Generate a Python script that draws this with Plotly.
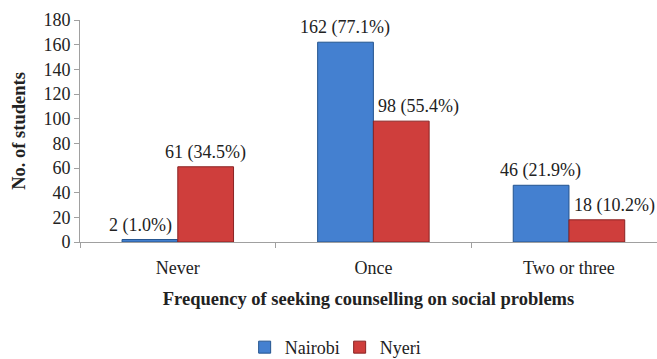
import plotly.graph_objects as go

categories = ["Never", "Once", "Two or three"]
nairobi = [2, 162, 46]
nairobi_pct = ["1.0%", "77.1%", "21.9%"]
nyeri = [61, 98, 18]
nyeri_pct = ["34.5%", "55.4%", "10.2%"]

FONT = "Liberation Serif"
BLUE = "#4480d0"
RED = "#cf3e3c"

# label placement styles (alignment of value labels above bars)
nairobi_label_shift = [-37, -28, -28]
nyeri_label_anchor = ["center", "left", "left"]
nyeri_label_shift = [28, 3, 3]

fig = go.Figure()
fig.add_trace(go.Bar(
    name="Nairobi", x=categories, y=nairobi,
    marker=dict(color=BLUE, line=dict(color="#24548f", width=1)),
))
fig.add_trace(go.Bar(
    name="Nyeri", x=categories, y=nyeri,
    marker=dict(color=RED, line=dict(color="#8a2323", width=1)),
))

for c, v, p, s in zip(categories, nairobi, nairobi_pct, nairobi_label_shift):
    fig.add_annotation(x=c, y=v, text=f"{v} ({p})", showarrow=False,
                       xanchor="center", yanchor="bottom", xshift=s, yshift=2,
                       font=dict(family=FONT, size=18, color="#222"))
for c, v, p, a, s in zip(categories, nyeri, nyeri_pct, nyeri_label_anchor, nyeri_label_shift):
    fig.add_annotation(x=c, y=v, text=f"{v} ({p})", showarrow=False,
                       xanchor=a, yanchor="bottom", xshift=s, yshift=2,
                       font=dict(family=FONT, size=18, color="#222"))

fig.update_layout(
    width=657, height=359,
    margin=dict(l=80, r=0, t=20, b=117, autoexpand=False),
    paper_bgcolor="white", plot_bgcolor="white",
    barmode="group", bargap=0.43, bargroupgap=0,
    font=dict(family=FONT, size=18, color="#222"),
    showlegend=True,
    legend=dict(orientation="h", x=0.45, xanchor="center", y=-0.475, yanchor="middle",
                font=dict(family=FONT, size=18, color="#222"), itemwidth=30,
                entrywidth=50, entrywidthmode="pixels", traceorder="normal"),
    xaxis=dict(
        range=[-0.5, 2.45], showline=True, linecolor="#a0a0a0", linewidth=1,
        ticks="outside", tickson="boundaries", ticklen=5, tickcolor="#a0a0a0",
        tickfont=dict(family=FONT, size=18), ticklabelstandoff=9, automargin=False,
        title=dict(text="<b>Frequency of seeking counselling on social problems</b>",
                   font=dict(family=FONT, size=18.5), standoff=15),
        showgrid=False, zeroline=False,
    ),
    yaxis=dict(
        range=[0, 180], dtick=20, showline=True, linecolor="#a0a0a0", linewidth=1,
        ticks="outside", ticklen=5, tickcolor="#a0a0a0", automargin=False,
        tickfont=dict(family=FONT, size=18),
        title=dict(text="<b>No. of students</b>", font=dict(family=FONT, size=18.5), standoff=12),
        showgrid=False, zeroline=False,
    ),
)

fig.write_html("out.html", config={"displayModeBar": False},
               post_script="document.body.style.margin='0';document.body.style.padding='0';")
